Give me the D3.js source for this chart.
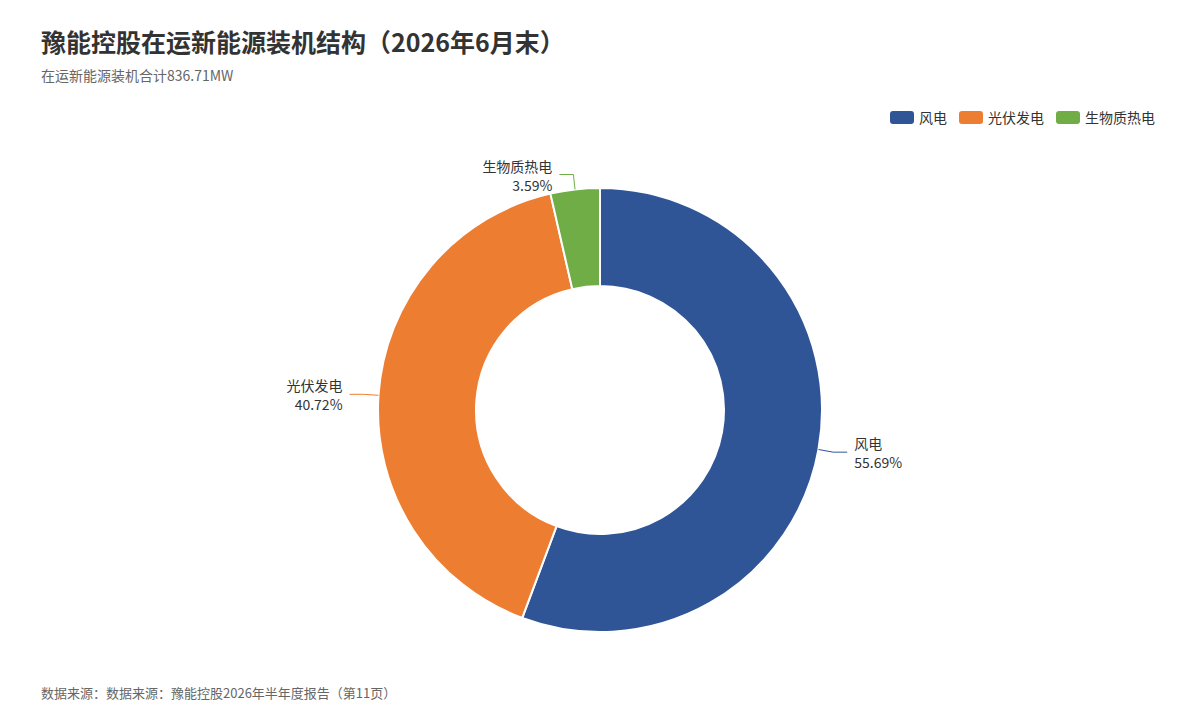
<!DOCTYPE html>
<html>
<head>
<meta charset="utf-8">
<script src="https://cdnjs.cloudflare.com/ajax/libs/d3/7.8.5/d3.min.js"></script>
<style>
  body { margin: 0; background: #fff; }
  text { font-family: "Noto Sans CJK SC", "Noto Sans", sans-serif; }
</style>
<title>豫能控股在运新能源装机结构</title>
</head>
<body>
<script>
  const categories = ["风电", "光伏发电", "生物质热电"];
  const capacityMW = [466.0, 340.71, 30.0];
  const colors = ["#2f5597", "#ed7d31", "#70ad47"];

  const width = 1200, height = 720;
  const cx = 600, cy = 410, outerR = 222, innerR = 124;

  const svg = d3.select("body").append("svg")
    .attr("width", width).attr("height", height);

  svg.append("text").attr("x", 41).attr("y", 52)
    .attr("font-size", 25).attr("font-weight", "bold").attr("fill", "#333")
    .text("豫能控股在运新能源装机结构（2026年6月末）");
  svg.append("text").attr("x", 41).attr("y", 81)
    .attr("font-size", 14).attr("fill", "#666")
    .text("在运新能源装机合计836.71MW");
  svg.append("text").attr("x", 41).attr("y", 698)
    .attr("font-size", 13).attr("fill", "#666")
    .text("数据来源：数据来源：豫能控股2026年半年度报告（第11页）");

  // legend
  const legendX = [890, 959, 1056];
  const legend = svg.append("g").selectAll("g")
    .data(categories).join("g")
    .attr("transform", (d, i) => `translate(${legendX[i]},111)`);
  legend.append("rect").attr("width", 24).attr("height", 13).attr("rx", 3)
    .attr("fill", (d, i) => colors[i]);
  legend.append("text").attr("x", 29).attr("y", 11.5)
    .attr("font-size", 14).attr("fill", "#333").text(d => d);

  const total = d3.sum(capacityMW);
  const pie = d3.pie().sort(null).value(d => d);
  const arcs = pie(capacityMW);
  const arc = d3.arc().innerRadius(innerR).outerRadius(outerR);

  const g = svg.append("g").attr("transform", `translate(${cx},${cy})`);
  g.selectAll("path.slice").data(arcs).join("path")
    .attr("class", "slice")
    .attr("d", arc)
    .attr("fill", (d, i) => colors[i])
    .attr("stroke", "#fff").attr("stroke-width", 2);

  // label lines
  const len1 = 15, len2 = 14, gap = 7;
  arcs.forEach((d, i) => {
    const a = (d.startAngle + d.endAngle) / 2;
    const p1 = [outerR * Math.sin(a), -outerR * Math.cos(a)];
    const p2 = [(outerR + len1) * Math.sin(a), -(outerR + len1) * Math.cos(a)];
    const side = Math.sin(a) >= 0 ? 1 : -1;
    const p3 = [p2[0] + side * len2, p2[1]];
    g.append("polyline")
      .attr("points", [p1, p2, p3].map(p => p.join(",")).join(" "))
      .attr("fill", "none").attr("stroke", colors[i]).attr("stroke-width", 1);
    const tx = p3[0] + side * gap;
    const anchor = side > 0 ? "start" : "end";
    g.append("text")
      .attr("font-size", 14).attr("fill", "#333").attr("text-anchor", anchor)
      .attr("x", tx).attr("y", p3[1] - 3)
      .text(categories[i]);
    g.append("text")
      .attr("font-size", 14).attr("fill", "#333").attr("text-anchor", anchor)
      .attr("x", tx).attr("y", p3[1] + 16)
      .text((capacityMW[i] / total * 100).toFixed(2) + "%");
  });
</script>
</body>
</html>
